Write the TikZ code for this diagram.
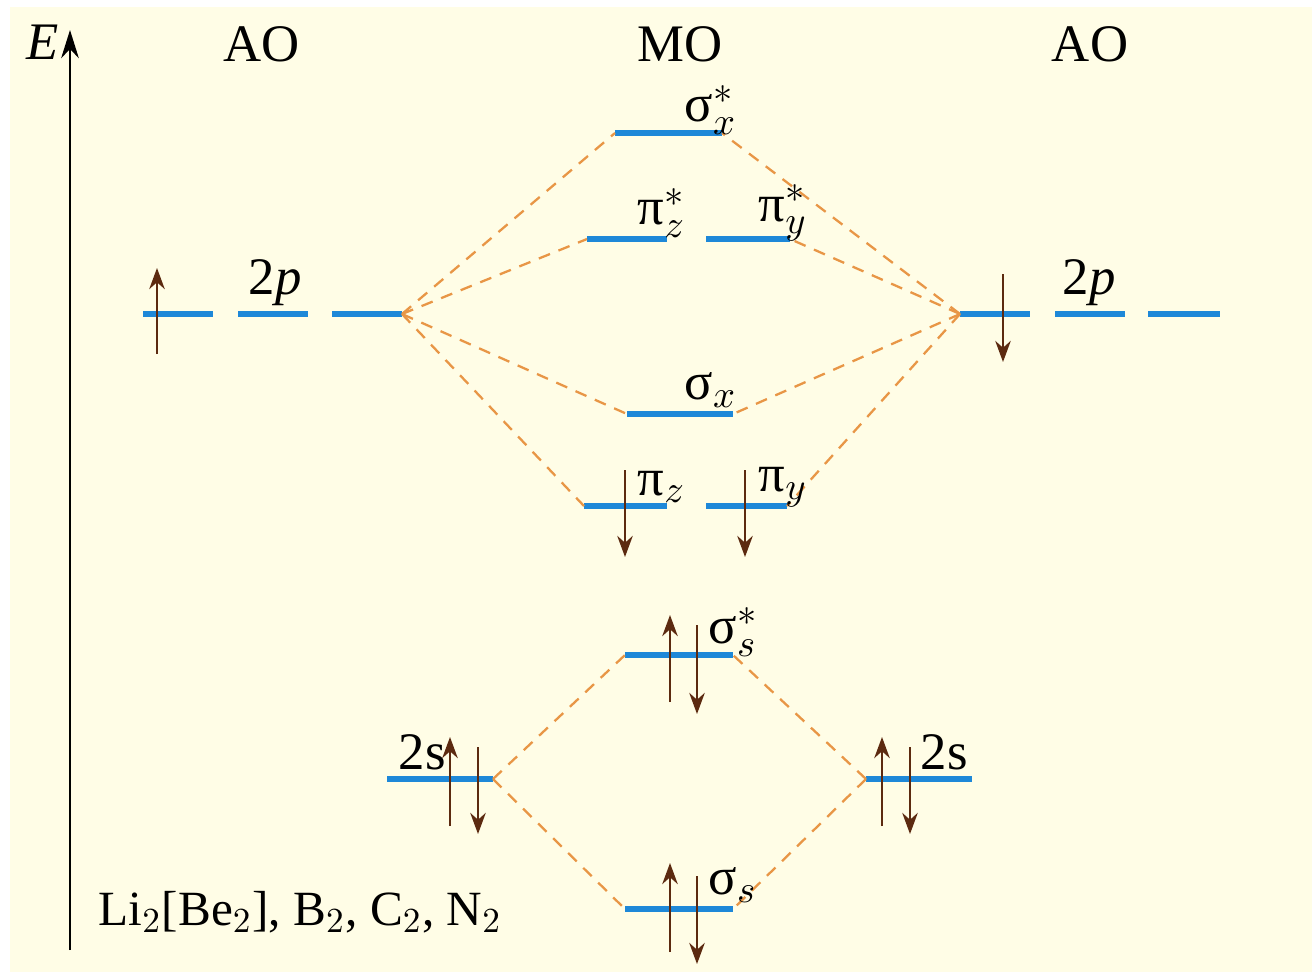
\documentclass[tikz,border=0pt]{standalone}
\usepackage{fontspec}
\setmainfont{Liberation Serif}
\usetikzlibrary{arrows.meta, calc}
\definecolor{levelblue}{RGB}{30,136,216}
\definecolor{corrorange}{RGB}{232,150,70}
\definecolor{spinbrown}{RGB}{92,42,16}
\definecolor{paper}{RGB}{255,253,230}
\tikzset{
  orbital/.style={draw=levelblue,line width=1.5pt},
  corr/.style={draw=corrorange,line width=0.65pt,dash pattern=on 3.4pt off 2.6pt},
  spinarrow/.style={-{Stealth[length=6pt,width=4.4pt]},draw=spinbrown,line width=0.7pt},
  term/.style={font=\fontsize{15}{18}\selectfont,inner sep=0pt},
  moterm/.style={term,anchor=west}
}
% one energy level: name, left x, right x, y
\newcommand{\orb}[4]{%
  \coordinate (#1-l) at (#2,#4);
  \coordinate (#1-r) at (#3,#4);
  \draw[orbital] (#1-l) -- (#1-r);}
\begin{document}
\begin{tikzpicture}[x=0.01cm,y=-0.01cm]
  \useasboundingbox (0,0) rectangle (1312,972);
  \fill[white] (0,0) rectangle (1312,972);
  \fill[paper] (10,7) rectangle (1312,972);

  % energy axis
  \coordinate (ebot) at (70,950);
  \coordinate (etop) at (70,30);
  \draw[-{Stealth[length=8pt,width=5pt]},line width=0.8pt] (ebot) -- (etop);
  \node[term] (eaxis) at (43,42) {\textit{E}};
  \node[term] (aoleft) at (262,44) {AO};
  \node[term] (mo) at (680,44) {MO};
  \node[term] (aoright) at (1090,44) {AO};

  % atomic orbitals
  \orb{pa1}{143}{213}{314}
  \orb{pa2}{238}{308}{314}
  \orb{pa3}{332}{402}{314}
  \orb{pb1}{960}{1030}{314}
  \orb{pb2}{1055}{1125}{314}
  \orb{pb3}{1148}{1220}{314}
  \orb{sa}{387}{493}{779}
  \orb{sb}{866}{972}{779}

  % molecular orbitals
  \orb{sxs}{615}{722}{133}
  \orb{pzs}{587}{667}{239}
  \orb{pys}{706}{790}{239}
  \orb{sx}{627}{733}{414}
  \orb{pz}{584}{667}{506}
  \orb{py}{706}{787}{506}
  \orb{sss}{625}{733}{655}
  \orb{ss}{625}{733}{909}

  % correlation lines
  \draw[corr] (pa3-r) -- (sxs-l);
  \draw[corr] (pa3-r) -- (pzs-l);
  \draw[corr] (pa3-r) -- (sx-l);
  \draw[corr] (pa3-r) -- (pz-l);
  \draw[corr] (pb1-l) -- (sxs-r);
  \draw[corr] (pb1-l) -- (pys-r);
  \draw[corr] (pb1-l) -- (sx-r);
  \draw[corr] (pb1-l) -- (py-r);
  \draw[corr] (sa-r) -- (sss-l);
  \draw[corr] (sa-r) -- (ss-l);
  \draw[corr] (sb-l) -- (sss-r);
  \draw[corr] (sb-l) -- (ss-r);

  % electrons
  \draw[spinarrow] (157,354) -- (157,268);
  \draw[spinarrow] (1003,274) -- (1003,362);
  \draw[spinarrow] (625,470) -- (625,557);
  \draw[spinarrow] (745,470) -- (745,557);
  \draw[spinarrow] (670,702) -- (670,615);
  \draw[spinarrow] (697,625) -- (697,714);
  \draw[spinarrow] (450,826) -- (450,737);
  \draw[spinarrow] (478,747) -- (478,834);
  \draw[spinarrow] (882,826) -- (882,737);
  \draw[spinarrow] (910,747) -- (910,834);
  \draw[spinarrow] (670,952) -- (670,863);
  \draw[spinarrow] (697,876) -- (697,964);

  % labels
  \node[moterm] (l2pa) at (248,283) {2\textit{p}};
  \node[moterm] (l2pb) at (1062,283) {2\textit{p}};
  \node[moterm] (l2sa) at (398,752) {2s};
  \node[moterm] (l2sb) at (920,752) {2s};
  \node[moterm] (lsxs) at (684,110) {σ$_{x}^{*}$};
  \node[moterm] (lpzs) at (637,213) {π$_{z}^{*}$};
  \node[moterm] (lpys) at (758,213) {π$_{y}^{*}$};
  \node[moterm] (lsx) at (684,390) {σ$_{x}$};
  \node[moterm] (lpz) at (637,487) {π$_{z}$};
  \node[moterm] (lpy) at (758,487) {π$_{y}$};
  \node[moterm] (lsss) at (708,632) {σ$_{s}^{*}$};
  \node[moterm] (lss) at (708,885) {σ$_{s}$};
  \node[moterm,font=\fontsize{14}{17}\selectfont] (mols) at (98,912)
    {Li$_2$[Be$_2$], B$_2$, C$_2$, N$_2$};
\end{tikzpicture}
\end{document}
